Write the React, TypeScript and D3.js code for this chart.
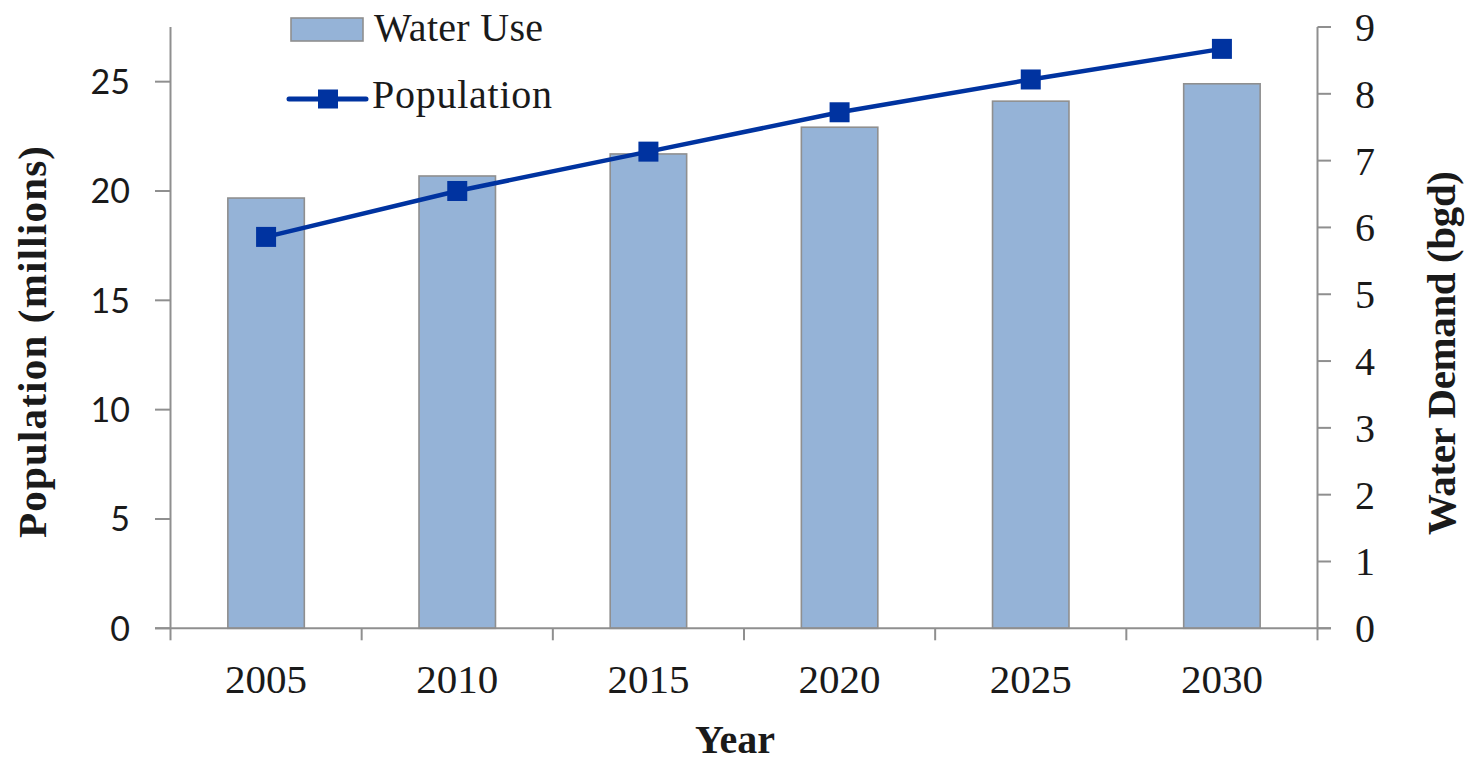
import React from "react";
import * as d3 from "d3";

const years = ["2005", "2010", "2015", "2020", "2025", "2030"];
const waterUse = [6.44, 6.77, 7.1, 7.5, 7.89, 8.15];
const population = [17.9, 20.0, 21.8, 23.6, 25.1, 26.5];
const leftTicks = [0, 5, 10, 15, 20, 25];
const rightTicks = [0, 1, 2, 3, 4, 5, 6, 7, 8, 9];

const W = 1467;
const H = 761;
const X0 = 170.5;
const X1 = 1317.5;
const YB = 628.3;
const YT = 27;

const SERIF = "'Liberation Serif', 'Times New Roman', serif";
const SANS = "Lato, 'Open Sans', sans-serif";
const AXIS = "#8f8f8f";
const BAR = "#95B3D7";
const LINE = "#0033A0";

export default function App() {
  const x = d3.scaleBand<string>().domain(years).range([X0, X1]).paddingInner(0.6).paddingOuter(0.3);
  const yL = d3.scaleLinear().domain([0, 27.5]).range([YB, YT]);
  const yR = d3.scaleLinear().domain([0, 9]).range([YB, YT]);
  const step = x.step();
  const cx = (y: string) => (x(y) as number) + x.bandwidth() / 2;
  const line = d3
    .line<number>()
    .x((_, i) => cx(years[i]))
    .y((d) => yL(d));
  const ms = 20;
  const bounds = d3.range(years.length + 1).map((i) => X0 + i * step);

  return (
    <svg width={W} height={H} style={{ position: "absolute", left: 0, top: 0, background: "#fff" }}>
      {/* bars */}
      {waterUse.map((v, i) => (
        <rect
          key={years[i]}
          x={x(years[i])}
          y={yR(v)}
          width={x.bandwidth()}
          height={YB - yR(v)}
          fill={BAR}
          stroke={AXIS}
          strokeWidth={1.6}
        />
      ))}
      {/* left axis */}
      <line x1={X0} x2={X0} y1={YT} y2={YB} stroke={AXIS} strokeWidth={2} />
      {leftTicks.map((t) => (
        <g key={"l" + t}>
          <line x1={155} x2={X0} y1={yL(t)} y2={yL(t)} stroke={AXIS} strokeWidth={2} />
          <text x={130} y={yL(t)} dy="0.36em" textAnchor="end" fontFamily={SANS} fontSize={34} fill="#1a1a1a">
            {t}
          </text>
        </g>
      ))}
      {/* right axis */}
      <line x1={X1} x2={X1} y1={YT} y2={YB} stroke={AXIS} strokeWidth={2} />
      {rightTicks.map((t) => (
        <g key={"r" + t}>
          <line x1={X1} x2={1331} y1={yR(t)} y2={yR(t)} stroke={AXIS} strokeWidth={2} />
          <text x={1355} y={yR(t)} dy="0.35em" textAnchor="start" fontFamily={SERIF} fontSize={40} fill="#1a1a1a">
            {t}
          </text>
        </g>
      ))}
      {/* bottom axis */}
      <line x1={155} x2={1331} y1={YB} y2={YB} stroke={AXIS} strokeWidth={2} />
      {bounds.map((b, i) => (
        <line key={"b" + i} x1={b} x2={b} y1={YB} y2={YB + 12} stroke={AXIS} strokeWidth={2} />
      ))}
      {years.map((y) => (
        <text key={"x" + y} x={cx(y)} y={693} textAnchor="middle" fontFamily={SERIF} fontSize={41} fill="#1a1a1a">
          {y}
        </text>
      ))}
      {/* population line */}
      <path d={line(population) || ""} fill="none" stroke={LINE} strokeWidth={4.5} />
      {population.map((v, i) => (
        <rect key={"m" + i} x={cx(years[i]) - ms / 2} y={yL(v) - ms / 2} width={ms} height={ms} fill={LINE} />
      ))}
      {/* axis titles */}
      <text x={735} y={753} textAnchor="middle" fontFamily={SERIF} fontWeight="bold" fontSize={40} fill="#1a1a1a">
        Year
      </text>
      <text
        transform="translate(46,342) rotate(-90)"
        textAnchor="middle"
        fontFamily={SERIF}
        fontWeight="bold"
        fontSize={41}
        textLength={392}
        lengthAdjust="spacing"
        fill="#1a1a1a"
      >
        Population (millions)
      </text>
      <text
        transform="translate(1455,353) rotate(-90)"
        textAnchor="middle"
        fontFamily={SERIF}
        fontWeight="bold"
        fontSize={41}
        textLength={364}
        lengthAdjust="spacing"
        fill="#1a1a1a"
      >
        Water Demand (bgd)
      </text>
      {/* legend */}
      <rect x={291} y={18} width={72} height={23} fill={BAR} stroke={AXIS} strokeWidth={1.6} />
      <text x={374} y={41} fontFamily={SERIF} fontSize={40} textLength={169} lengthAdjust="spacing" fill="#1a1a1a">
        Water Use
      </text>
      <line x1={289} x2={366} y1={99} y2={99} stroke={LINE} strokeWidth={5} strokeLinecap="round" />
      <rect x={328 - 10} y={99 - 9.5} width={20} height={19} fill={LINE} />
      <text x={372} y={108} fontFamily={SERIF} fontSize={40} textLength={180} lengthAdjust="spacing" fill="#1a1a1a">
        Population
      </text>
    </svg>
  );
}
